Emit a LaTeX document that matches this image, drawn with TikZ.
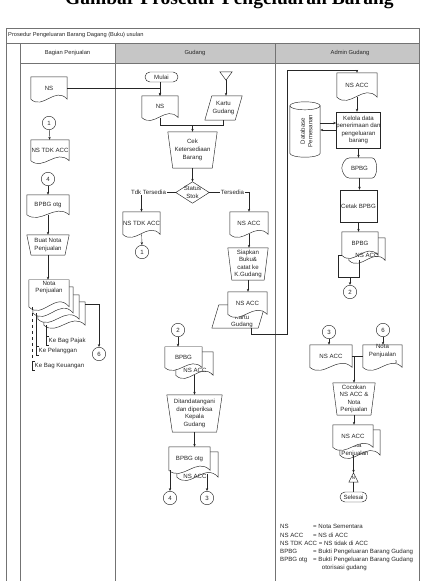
\documentclass[tikz,border=0pt]{standalone}
\usepackage{fontspec}
\setmainfont{Liberation Sans}
\newfontfamily\titlef{Liberation Serif}
\usetikzlibrary{calc,arrows.meta}
\pgfdeclarelayer{bg}
\pgfsetlayers{bg,main}
\newcommand\DocS[1]{\path[shp] let \p1=(#1.north west), \p2=(#1.south east), \n1={\x2-\x1}, \n2={\y1-\y2} in
 (\x1,\y1) -- (\x2,\y1) -- (\x2,\y2) .. controls ({\x2-\n1/3},{\y2+0.6*\n2}) and ({\x1+\n1/3},{\y2-0.5*\n2}) .. (\x1,\y2) -- cycle;}
\newcommand\TrapS[1]{\path[shp] let \p1=(#1.north west), \p2=(#1.south east), \n1={0.1*(\x2-\x1)} in
 (\x1,\y1) -- (\x2,\y1) -- ({\x2-\n1},\y2) -- ({\x1+\n1},\y2) -- cycle;}
\newcommand\ParaS[1]{\path[shp] let \p1=(#1.north west), \p2=(#1.south east) in
 ({\x1+7},\y1) -- (\x2,\y1) -- ({\x2-7},\y2) -- (\x1,\y2) -- cycle;}
\newcommand\DiaS[1]{\path[shp] (#1.north) -- (#1.east) -- (#1.south) -- (#1.west) -- cycle;}
\newcommand\TriDS[1]{\path[shp] (#1.north west) -- (#1.north east) -- (#1.south) -- cycle;}
\newcommand\TriUS[1]{\path[shp] (#1.south west) -- (#1.south east) -- (#1.north) -- cycle;}
\newcommand\CylS[1]{\path[shp] let \p1=(#1.north west), \p2=(#1.south east), \n1={(\x2-\x1)/2} in
 (\x1,{\y1-4}) -- (\x1,{\y2+4}) arc[start angle=180,end angle=360,x radius=\n1,y radius=4pt] -- (\x2,{\y1-4}) arc[start angle=0,end angle=180,x radius=\n1,y radius=4pt] -- cycle;
 \path[shp,fill=none] let \p1=(#1.north west), \p2=(#1.south east), \n1={(\x2-\x1)/2} in
 (\x1,{\y1-4}) arc[start angle=180,end angle=360,x radius=\n1,y radius=4pt];}
\newcommand\DispS[1]{\path[shp] let \p1=(#1.north west), \p2=(#1.south east), \n1={\x2-\x1}, \n2={(\y1+\y2)/2} in
 ({\x1+0.22*\n1},\y1) -- ({\x2-0.15*\n1},\y1) .. controls ({\x2+0.03*\n1},\y1) and ({\x2+0.03*\n1},\y2) .. ({\x2-0.15*\n1},\y2) -- ({\x1+0.22*\n1},\y2) .. controls ({\x1+0.08*\n1},\y2) and (\x1,{\n2-3}) .. (\x1,\n2) .. controls (\x1,{\n2+3}) and ({\x1+0.08*\n1},\y1) .. ({\x1+0.22*\n1},\y1) -- cycle;}
\begin{document}
\begin{tikzpicture}[x=1pt,y=1pt,
  txt/.style={font=\fontsize{6.1}{7.6}\selectfont, text=black!85, align=center, inner sep=0pt},
  sh/.style 2 args={txt, minimum width=#1pt, minimum height=#2pt},
  shp/.style={draw=black!85, line width=0.45pt, fill=white},
  circ/.style={txt, circle, draw=black!85, line width=0.45pt, fill=white, minimum size=13.4pt},
  term/.style={txt, draw=black!85, line width=0.45pt, fill=white, rounded corners=5pt},
  rectb/.style={txt, draw=black!85, line width=0.45pt, fill=white},
  ln/.style={draw=black!85, line width=0.45pt},
  arr/.style={ln, -{Stealth[length=3pt,width=2.4pt]}},
  lane/.style={draw=black!55, line width=0.9pt},
  brk/.style={txt, anchor=west, inner xsep=2.5pt, inner ysep=1.5pt},
]
\useasboundingbox (0,0) rectangle (423,-581);
\node[anchor=base west, inner sep=0pt, font=\titlef\bfseries\fontsize{19.5}{22}\selectfont] (ttl) at (65,-4) {Gambar Prosedur Pengeluaran Barang};

% frame
\fill[gray!45] (115,-43) rectangle (419,-63);
\draw[lane] (6.5,-28) rectangle (419,-43);
\draw[lane] (20,-63) -- (419,-63);
\draw[lane] (6.5,-43) -- (6.5,-581);
\draw[lane] (20,-43) -- (20,-581);
\draw[lane] (115,-43) -- (115,-581);
\draw[lane] (275,-43) -- (275,-581);
\draw[lane] (419,-43) -- (419,-581);
\node[txt, anchor=west, font=\fontsize{5.7}{7}\selectfont] (hT) at (8,-35.5) {Prosedur Pengeluaran Barang Dagang (Buku) usulan};
\node[txt, font=\fontsize{5.8}{7}\selectfont] (hBP) at (67.5,-53) {Bagian Penjualan};
\node[txt, font=\fontsize{5.8}{7}\selectfont] (hG) at (195,-53) {Gudang};
\node[txt, font=\fontsize{5.8}{7}\selectfont] (hA) at (350,-53) {Admin Gudang};

% Bagian Penjualan
\node[sh={36}{22}] (lNS) at (49,-88) {NS};
\node[circ] (c1L) at (49,-123) {1};
\node[sh={38}{20.5}] (lTDK) at (50,-150.3) {NS TDK ACC};
\node[circ] (c4L) at (48,-179) {4};
\node[sh={42}{19.6}] (lOtg) at (48,-204.8) {BPBG otg};
\node[sh={42}{20}] (lBuat) at (48,-245) {Buat Nota\\Penjualan};
\node[sh={41}{23}] (lN3) at (64.5,-313.5) {};
\node[sh={41}{24}] (lN2) at (58.5,-307) {};
\node[sh={40}{25.8}] (lN1) at (53,-299.9) {};
\node[sh={40}{26.7}] (lN0) at (49,-293.3) {};
\node[txt] (lNt) at (49,-287.5) {Nota\\Penjualan};
\node[brk] (lPj) at (46,-340.7) {Ke Bag Pajak};
\node[brk] (lPl) at (36,-350.7) {Ke Pelanggan};
\node[brk] (lKu) at (32,-366) {Ke Bag Keuangan};
\node[circ] (c6L) at (99,-354) {6};

% Gudang
\node[term, minimum width=33pt, minimum height=10pt] (gMulai) at (161.5,-77) {Mulai};
\node[sh={36}{21.4}] (gNS) at (160,-106.7) {NS};
\node[sh={12}{8}] (gTri) at (226,-76) {};
\node[sh={37}{24}] (gKartu) at (223.5,-108) {Kartu\\Gudang};
\coordinate (mA) at (192.5,-125);
\node[sh={49}{36}] (gCek) at (192.5,-150) {Cek\\Ketersediaan\\Barang};
\node[sh={33}{21}] (gStat) at (192.5,-192.5) {Status\\Stok};
\node[sh={37}{22.2}] (gTDK) at (141.5,-223.1) {NS TDK ACC};
\node[circ] (c1G) at (142,-252) {1};
\node[sh={38}{22.2}] (gACC) at (249,-223.1) {NS ACC};
\node[sh={40}{32}] (gSiap) at (248,-264) {Siapkan\\Buku\&\\catat ke\\K.Gudang};
\node[sh={53}{23}] (gK2) at (238.5,-316.5) {};
\node[sh={39}{22.2}] (gACC2) at (247.5,-303.1) {NS ACC};
\coordinate (k1) at (287,-334);
\coordinate (k2) at (287,-70);
\node[circ] (c2G) at (178,-330) {2};
\node[sh={37}{23.1}] (gBb) at (194.5,-363.6) {};
\node[sh={37}{20.5}] (gB) at (183.5,-357.2) {BPBG};
\node[txt] (gBbt) at (195,-370) {NS ACC};
\node[sh={55}{37}] (gDit) at (194.5,-413.5) {Ditandatangani\\dan diperiksa\\Kepala\\Gudang};
\node[sh={41}{24.9}] (gOb) at (197.5,-464.5) {};
\node[sh={41}{23.1}] (gO) at (189.5,-458.6) {BPBG otg};
\node[txt] (gObt) at (195,-476) {NS ACC};
\node[circ] (c4G) at (170,-498) {4};
\node[circ] (c3G) at (207,-498) {3};
\coordinate (t3) at (c3G |- gOb.south);

% Admin Gudang
\node[sh={40}{24}] (aACC) at (357,-85) {NS ACC};
\node[rectb, minimum width=43pt, minimum height=36pt] (aKel) at (358.5,-130) {Kelola data\\penerimaan dan\\pengeluaran\\barang};
\node[sh={30}{55}] (aDB) at (305,-129.5) {};
\node[txt, rotate=90] (aDBt) at (306.5,-131) {Database\\Pemesanan};
\coordinate (yA) at (0,-123);
\coordinate (yB) at (0,-130);
\node[sh={35}{20}] (aDisp) at (359.5,-168) {BPBG};
\node[rectb, minimum width=37pt, minimum height=32pt] (aCet) at (358.5,-206) {Cetak BPBG};
\node[sh={36}{22.2}] (aBb) at (367,-249.1) {};
\node[sh={36}{23.1}] (aB) at (360,-243.6) {BPBG};
\node[txt] (aBbt) at (367,-255) {NS ACC};
\coordinate (m2) at (338,-277);
\coordinate (m3) at (359,-277);
\coordinate (m4) at (350,-277);
\node[circ] (c2A) at (350,-292) {2};
\node[circ] (c3A) at (329,-332) {3};
\node[circ] (c6A) at (383,-330) {6};
\node[sh={42}{22.2}] (aACC3) at (331,-356.1) {NS ACC};
\node[sh={39}{22.2}] (aNota) at (382.5,-356.1) {};
\node[txt] (aNotat) at (382.5,-351) {Nota\\Penjualan};
\node[txt, font=\fontsize{4}{4}\selectfont] (aNo3) at (396,-362) {3};
\node[sh={42}{32}] (aCoc) at (354,-399) {Cocokan\\NS ACC \&\\Nota\\Penjualan};
\node[sh={40}{24.9}] (aFb) at (360,-442.5) {};
\node[sh={40}{22.2}] (aF) at (353,-436.1) {NS ACC};
\node[sh={9}{9}, font=\fontsize{4.5}{5}\selectfont] (aN) at (353.5,-477.5) {\raisebox{-1pt}{N}};
\node[term, minimum width=27pt, minimum height=10pt] (aSel) at (353.5,-497) {Selesai};

% legend
\node[txt, anchor=west] (lg1a) at (280,-526.7) {NS};
\node[txt, anchor=west] (lg1b) at (313,-526.7) {= Nota Sementara};
\node[txt, anchor=west] (lg2a) at (280,-535) {NS ACC};
\node[txt, anchor=west] (lg2b) at (313,-535) {= NS di ACC};
\node[txt, anchor=west] (lg3) at (280,-543.3) {NS TDK ACC = NS tidak di ACC};
\node[txt, anchor=west] (lg4a) at (280,-551.7) {BPBG};
\node[txt, anchor=west] (lg4b) at (313,-551.7) {= Bukti Pengeluaran Barang Gudang};
\node[txt, anchor=west] (lg5a) at (280,-560) {BPBG otg};
\node[txt, anchor=west] (lg5b) at (313,-560) {= Bukti Pengeluaran Barang Gudang};
\node[txt, anchor=west] (lg6) at (321.7,-568.3) {otorisasi gudang};

% shapes on background
\begin{pgfonlayer}{bg}
 \DocS{lNS} \DocS{lTDK} \DocS{lOtg} \TrapS{lBuat}
 \DocS{lN3} \DocS{lN2} \DocS{lN1} \DocS{lN0}
 \DocS{gNS} \TriDS{gTri} \ParaS{gKartu} \TrapS{gCek} \DiaS{gStat}
 \DocS{gTDK} \DocS{gACC} \TrapS{gSiap} \ParaS{gK2}
 \node[txt] (gK2t) at (242,-321.5) {Kartu\\Gudang};
 \DocS{gACC2}
 \DocS{gBb} \DocS{gB} \TrapS{gDit} \DocS{gOb} \DocS{gO}
 \DocS{aACC} \CylS{aDB} \DispS{aDisp} \DocS{aBb} \DocS{aB}
 \DocS{aACC3} \DocS{aNota} \TrapS{aCoc} \DocS{aFb}
 \node[txt] (aFbt) at (355,-450) {Nota\\Penjualan};
 \DocS{aF} \TriUS{aN}
\end{pgfonlayer}

% connectors
\draw[arr] (lNS.east) -| (gNS.north);
\draw[arr] (c1L) -- (lTDK);
\draw[arr] (c4L) -- (lOtg);
\draw[arr] (lOtg.south) -- (lOtg.south |- lBuat.north);
\draw[arr] (lBuat.south) -- (lBuat.south |- lN0.north);
\draw[arr] ($(lN3.north east)+(0,-2)$) -| (c6L.north);
\draw[ln,dashed] (lN0.south -| lKu.west) -- (lKu.north west);
\draw[ln] (lN1.south -| lPl.west) -- (lPl.north west);
\draw[ln] (lN3.south -| lPj.west) -- (lPj.north west);
\draw[ln] ([xshift=3pt]lKu.north west) -- (lKu.north west) -- (lKu.south west) -- ([xshift=3pt]lKu.south west);
\draw[ln] ([xshift=3pt]lPl.north west) -- (lPl.north west) -- (lPl.south west) -- ([xshift=3pt]lPl.south west);
\draw[ln] ([xshift=3pt]lPj.north west) -- (lPj.north west) -- (lPj.south west) -- ([xshift=3pt]lPj.south west);

\draw[arr] (gNS.north |- gMulai.south) -- (gNS.north);
\draw[arr] (gTri.south) -- (gTri.south |- gKartu.north);
\draw[ln] (gNS.south) |- (mA);
\draw[ln] (gKartu.south) |- (mA);
\draw[arr] (mA) -- (mA |- gCek.north);
\draw[arr] (gCek.south) -- (gCek.south |- gStat.north);
\draw[arr] (gStat.west) -| (gTDK.north);
\draw[arr] (gStat.east) -| (gACC.north);
\node[txt, fill=white, inner xsep=1pt, inner ysep=0.5pt] (lbT) at (148.5,-192.5) {Tdk Tersedia};
\node[txt, fill=white, inner xsep=1pt, inner ysep=0.5pt] (lbY) at (232.5,-192.5) {Tersedia};
\draw[arr] (gTDK) -- (c1G);
\draw[arr] (gACC.south) -- (gACC.south |- gSiap.north);
\draw[arr] (gSiap.south) -- (gSiap.south |- gACC2.north);
\draw[arr] ([xshift=-14pt]gK2.south east) |- (k1) -- (k2) -| (aACC.north);
\draw[arr] (c2G) -- (c2G |- gB.north);
\draw[arr] (gBb.south) -- (gBb.south |- gDit.north);
\draw[arr] (gDit.south) -- (gDit.south |- gO.north);
\draw[arr] (c4G |- gO.south) -- (c4G);
\draw[arr] ($(t3)+(0,3)$) -- (c3G);

\draw[arr] (aACC.south) -- (aACC.south |- aKel.north);
\draw[arr] (aDB.east |- yA) -- (aKel.west |- yA);
\draw[arr] (aKel.west |- yB) -- (aDB.east |- yB);
\draw[arr] (aKel.south) -- (aKel.south |- aDisp.north);
\draw[arr] (aDisp.south) -- (aDisp.south |- aCet.north);
\draw[arr] (aCet.south) -- (aCet.south |- aB.north);
\draw[ln] (aB.south west) -- (aB.south west -| m2) -- (m2) -- (m3) -- (m3 |- aBb.south);
\draw[arr] (m4) -- (c2A);
\draw[arr] (c3A) -- (c3A |- aACC3.north);
\draw[arr] (c6A) -- (c6A |- aNota.north);
\draw[ln] (aACC3.east) -- (aNota.west);
\draw[arr] (aCoc.north |- aACC3.east) -- (aCoc.north);
\draw[arr] (aCoc.south) -- (aCoc.south |- aF.north);
\draw[arr] (aN |- aFb.south) -- (aN.north);
\draw[ln] (aN.south) -- (aSel.north);
\end{tikzpicture}
\end{document}
